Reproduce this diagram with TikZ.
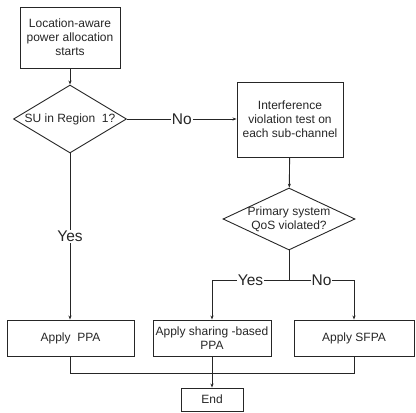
\documentclass[tikz,border=0pt]{standalone}
\usepackage{fontspec}
\setmainfont{Liberation Sans}
\usetikzlibrary{shapes.geometric,arrows.meta}
\tikzset{
  box/.style={draw, line width=0.9pt, align=center, inner sep=0pt,
    font=\fontsize{12}{14}\selectfont},
  decision/.style={draw, diamond, line width=0.9pt, inner sep=0pt},
  flow/.style={line width=0.9pt, -{Stealth[length=4pt,width=3pt]}},
  line/.style={line width=0.9pt},
  answer/.style={fill=white, inner sep=1pt, font=\fontsize{15.5}{16}\selectfont}
}
\begin{document}
\begin{tikzpicture}[x=1pt, y=-1pt, black!85]
      \useasboundingbox (0,0) rectangle (416,413);
      \node[box, minimum width=100pt, minimum height=61pt] (start) at (70,37.5)
        {Location-aware\\power allocation\\starts};
      \node[decision, minimum width=113pt, minimum height=68pt,
        label={[font=\fontsize{12}{14}\selectfont]center:SU in Region\ \ 1?}] (d1) at (70,119) {};
      \node[box, minimum width=106pt, minimum height=75pt] (interf) at (290,119.5)
        {Interference\\violation test on\\each sub-channel};
      \node[decision, minimum width=132pt, minimum height=62pt,
        label={[align=center, font=\fontsize{12}{14}\selectfont]center:Primary system\\QoS violated?}] (d2) at (289,219) {};
      \node[box, minimum width=127pt, minimum height=36pt] (ppa) at (70.5,338) {Apply\ \ PPA};
      \node[box, minimum width=118pt, minimum height=36pt] (share) at (212,338)
        {Apply sharing -based\\PPA};
      \node[box, minimum width=120pt, minimum height=36pt] (sfpa) at (354,338) {Apply SFPA};
      \node[box, minimum width=62pt, minimum height=23pt] (end) at (212,399.5) {End};
      \coordinate (split) at (289,280);
      \coordinate (merge) at (212,373);
      % connectors
      \draw[flow] (start) -- (d1);
      \draw[flow] (d1.east) -- node[answer]{No} (d1.east -| interf.west);
      \draw[flow] (d1.south) -- node[answer, pos=0.5]{Yes} (ppa.north -| d1.south);
      \draw[flow] (interf) -- (d2);
      \draw[line] (d2.south) -- (split);
      \draw[flow] (split) -- node[answer]{Yes} (split -| share.north) -- (share);
      \draw[flow] (split) -- node[answer]{No} (split -| sfpa.north) -- (sfpa);
      \draw[line] (ppa.south -| d1.south) -- (merge -| d1.south) -- (merge -| sfpa.south) -- (sfpa);
      \draw[flow] (share) -- (end);
\end{tikzpicture}
\end{document}
